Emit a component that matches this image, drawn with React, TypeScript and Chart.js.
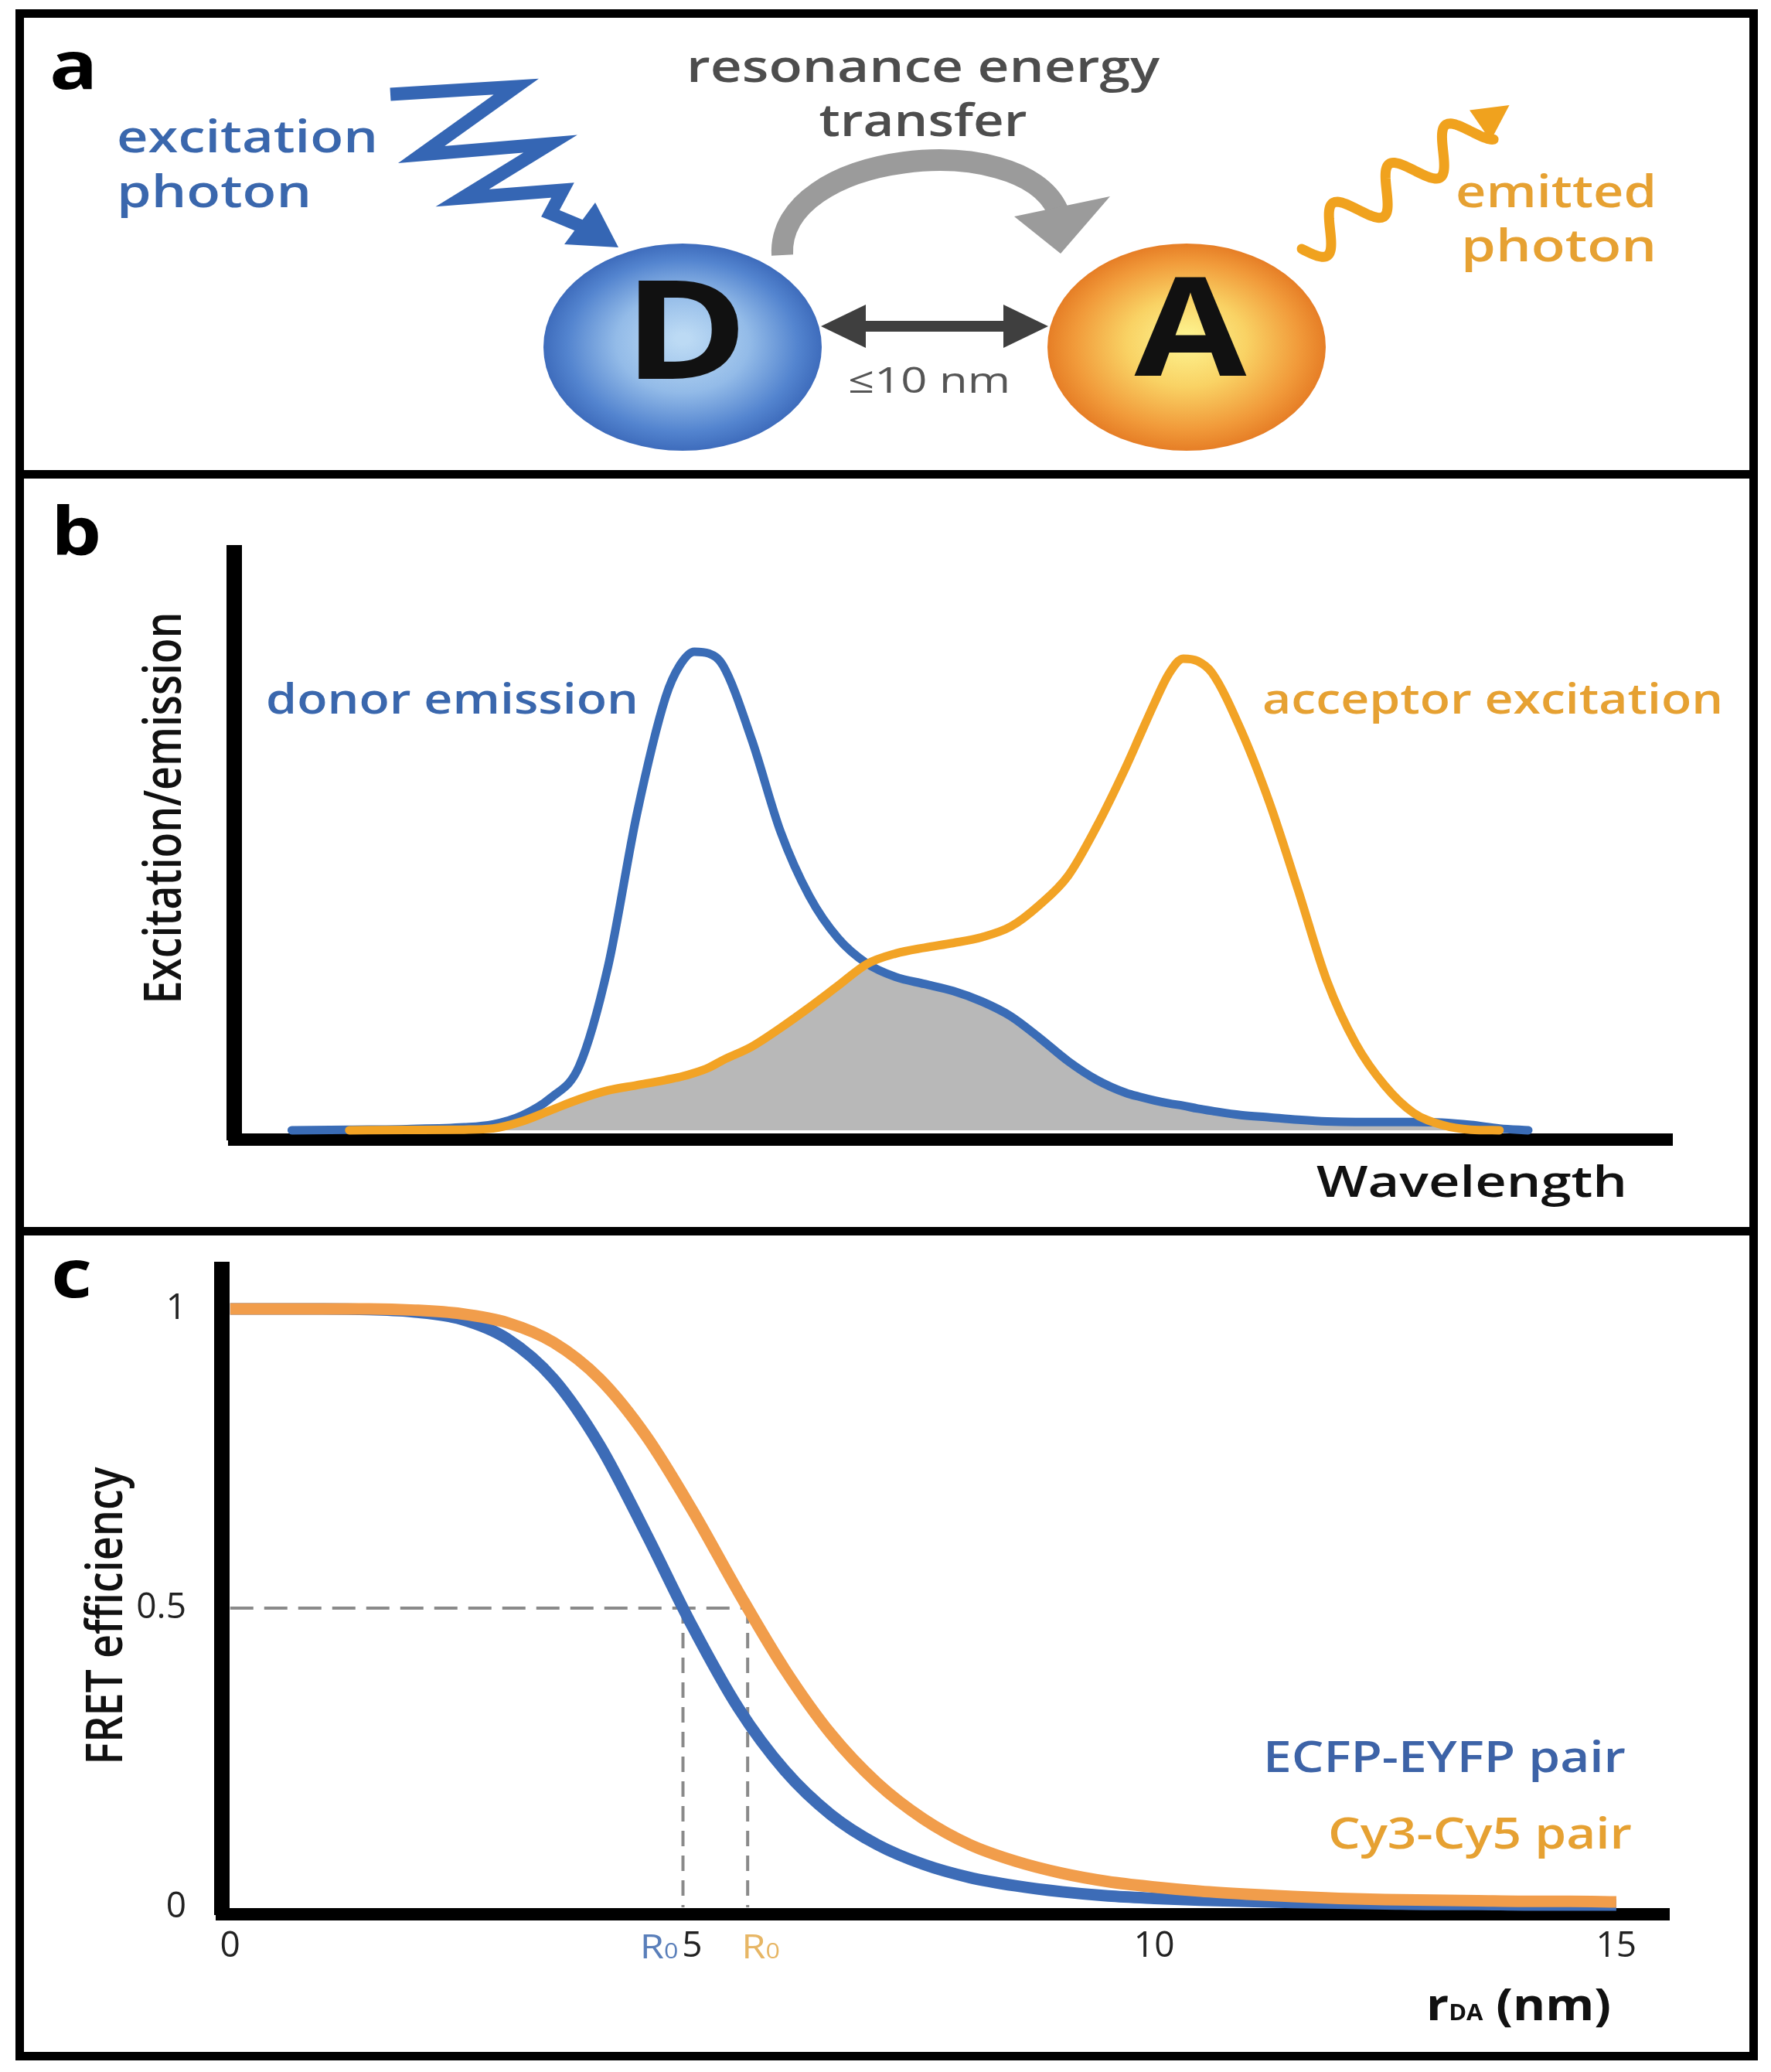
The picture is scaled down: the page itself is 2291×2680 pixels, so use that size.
import React, { useEffect, useRef } from "react";
import { Chart, registerables } from "chart.js";

Chart.register(...registerables);

// ---------------- Panel b data (arbitrary wavelength units) ----------------
const wavelength = [4, 8, 12, 16, 18, 20, 22, 24, 26, 28, 30, 31, 32, 33, 34, 36, 38, 40, 42, 44, 46, 48, 50, 52, 54, 56, 58, 60, 62, 63, 64, 65, 66, 67, 68, 70, 72, 74, 76, 78, 80, 82, 84, 86, 88, 90];
const donorEmission = [0, 0.1, 0.2, 0.5, 1.0, 2.5, 5.5, 11, 28, 54, 74, 79.5, 81.8, 81.5, 79.4, 66.7, 51, 40, 32.8, 28.5, 26.2, 25, 23.8, 22, 19.5, 15.8, 11.8, 8.6, 6.4, 5.7, 5.1, 4.6, 4.2, 3.7, 3.3, 2.6, 2.2, 1.8, 1.5, 1.4, 1.4, 1.4, 1.3, 0.9, 0.3, 0];
const acceptorExcitation = [null, 0, 0.05, 0.1, 0.3, 1.5, 3.4, 5.3, 6.8, 7.7, 8.6, 9.1, 9.8, 10.7, 12, 14.3, 17.5, 21, 24.7, 28.4, 30.2, 31.2, 32, 33, 34.8, 38.5, 43.5, 52, 62, 67.5, 73, 78, 80.6, 80.2, 78.2, 68.5, 56, 41, 25.5, 14.8, 7.7, 3, 0.9, 0.1, 0, null];

// ---------------- Panel c data ----------------
const distanceNm = [0, 0.5, 1, 1.5, 2, 2.5, 3, 3.5, 4, 4.5, 5, 5.5, 6, 6.5, 7, 7.5, 8, 8.5, 9, 9.5, 10, 10.5, 11, 11.5, 12, 12.5, 13, 13.5, 14, 14.5, 15];
const ecfpEyfpEfficiency = [1, 1, 1, 0.999, 0.995, 0.983, 0.95, 0.883, 0.772, 0.625, 0.47, 0.333, 0.229, 0.155, 0.105, 0.072, 0.05, 0.036, 0.026, 0.019, 0.015, 0.012, 0.01, 0.008, 0.007, 0.006, 0.005, 0.005, 0.004, 0.004, 0.004];
const cy3Cy5Efficiency = [1, 1, 1, 1, 0.998, 0.992, 0.977, 0.944, 0.883, 0.788, 0.664, 0.527, 0.398, 0.29, 0.208, 0.148, 0.105, 0.077, 0.057, 0.043, 0.034, 0.027, 0.022, 0.018, 0.015, 0.013, 0.012, 0.011, 0.01, 0.01, 0.009];
const r0Values = [4.9, 5.6]; // ECFP-EYFP, Cy3-Cy5
const halfEfficiency = 0.5;
const xTicksC = [0, 5, 10, 15];
const yTicksC = [0, 0.5, 1];

// ---------------- styles ----------------
const FONT = '"Open Sans", "Noto Sans", "DejaVu Sans", sans-serif';
const W = 2291;
const PANEL_A = { top: 22, height: 586 };
const PANEL_B = { top: 620, height: 967 };
const PANEL_C = { top: 1598, height: 1057 };
const BLUE_TEXT = "#3a67ad";
const ORANGE_TEXT = "#e6a132";
const GRAY_TEXT = "#4d4d4d";

type TOpts = { x: number; y: number; font: string; color: string; align?: "left" | "center" | "right"; width?: number; sx?: number };

function drawLabel(ctx: CanvasRenderingContext2D, text: string, o: TOpts) {
  ctx.save();
  ctx.font = o.font;
  ctx.fillStyle = o.color;
  ctx.textBaseline = "alphabetic";
  ctx.textAlign = "left";
  const w = ctx.measureText(text).width;
  const sx = o.width ? o.width / w : o.sx ?? 1;
  const tw = w * sx;
  const left = o.align === "center" ? o.x - tw / 2 : o.align === "right" ? o.x - tw : o.x;
  ctx.translate(left, o.y);
  ctx.scale(sx, 1);
  ctx.fillText(text, 0, 0);
  ctx.restore();
}

function drawVertical(ctx: CanvasRenderingContext2D, text: string, baseX: number, cy: number, font: string, length: number, cross: number) {
  ctx.save();
  ctx.font = font;
  ctx.fillStyle = "#111";
  ctx.textAlign = "center";
  ctx.textBaseline = "alphabetic";
  const w = ctx.measureText(text).width;
  ctx.translate(baseX, cy);
  ctx.rotate(-Math.PI / 2);
  ctx.scale(length / w, cross);
  ctx.fillText(text, 0, 0);
  ctx.restore();
}

function drawRich(ctx: CanvasRenderingContext2D, segs: { t: string; font: string }[], left: number, baseline: number, width: number, color: string) {
  ctx.save();
  ctx.fillStyle = color;
  ctx.textBaseline = "alphabetic";
  ctx.textAlign = "left";
  const widths = segs.map((s) => {
    ctx.font = s.font;
    return ctx.measureText(s.t).width;
  });
  const total = widths.reduce((a, b) => a + b, 0);
  const sx = width / total;
  ctx.translate(left, baseline);
  ctx.scale(sx, 1);
  let x = 0;
  segs.forEach((s, i) => {
    ctx.font = s.font;
    ctx.fillText(s.t, x, 0);
    x += widths[i];
  });
  ctx.restore();
}

function orb(ctx: CanvasRenderingContext2D, cx: number, cy: number, rx: number, ry: number, stops: [number, string][]) {
  ctx.save();
  ctx.translate(cx, cy);
  ctx.scale(rx / ry, 1);
  const g = ctx.createRadialGradient(0, -ry * 0.08, ry * 0.05, 0, 0, ry);
  stops.forEach(([o, c]) => g.addColorStop(o, c));
  ctx.fillStyle = g;
  ctx.beginPath();
  ctx.arc(0, 0, ry, 0, Math.PI * 2);
  ctx.fill();
  ctx.restore();
}

function tri(ctx: CanvasRenderingContext2D, pts: number[][], color: string) {
  ctx.fillStyle = color;
  ctx.beginPath();
  ctx.moveTo(pts[0][0], pts[0][1]);
  for (let i = 1; i < pts.length; i++) ctx.lineTo(pts[i][0], pts[i][1]);
  ctx.closePath();
  ctx.fill();
}

const diagramPlugin = {
  id: "fretDiagram",
  afterDraw(chart: any) {
    const ctx: CanvasRenderingContext2D = chart.ctx;
    ctx.save();
    ctx.translate(0, -PANEL_A.top);

    drawLabel(ctx, "a", { x: 64, y: 115, font: `700 86px ${FONT}`, color: "#000", sx: 1.2 });
    const sb = `600 58px ${FONT}`;
    drawLabel(ctx, "excitation", { x: 151, y: 197, font: sb, color: BLUE_TEXT, width: 338 });
    drawLabel(ctx, "photon", { x: 151, y: 268, font: sb, color: BLUE_TEXT, width: 252 });
    drawLabel(ctx, "resonance energy", { x: 1194, y: 106, font: sb, color: GRAY_TEXT, width: 612, align: "center" });
    drawLabel(ctx, "transfer", { x: 1194, y: 176, font: sb, color: GRAY_TEXT, width: 269, align: "center" });
    drawLabel(ctx, "emitted", { x: 1883, y: 268, font: sb, color: ORANGE_TEXT, width: 260 });
    drawLabel(ctx, "photon", { x: 1890, y: 338, font: sb, color: ORANGE_TEXT, width: 253 });

    // excitation zigzag
    ctx.save();
    ctx.strokeStyle = "#3566b4";
    ctx.lineWidth = 17;
    ctx.lineJoin = "miter";
    ctx.miterLimit = 10;
    ctx.beginPath();
    const zz = [[505, 122], [668, 112], [545, 200], [712, 186], [598, 256], [728, 246], [712, 276], [760, 296]];
    ctx.moveTo(zz[0][0], zz[0][1]);
    zz.slice(1).forEach((p) => ctx.lineTo(p[0], p[1]));
    ctx.stroke();
    tri(ctx, [[800, 320], [730, 316], [770, 262]], "#3566b4");
    ctx.restore();

    // resonance energy transfer arc
    ctx.save();
    ctx.strokeStyle = "#9b9b9b";
    ctx.lineWidth = 28;
    ctx.lineCap = "butt";
    ctx.beginPath();
    ctx.moveTo(1012, 330);
    ctx.bezierCurveTo(1005, 195, 1320, 165, 1368, 272);
    ctx.stroke();
    tri(ctx, [[1312, 280], [1436, 254], [1372, 328]], "#9b9b9b");
    ctx.restore();

    // circles
    orb(ctx, 883, 449, 180, 134, [[0, "#bcdaf4"], [0.45, "#93bbe8"], [0.82, "#5384cf"], [1, "#3e6cbc"]]);
    orb(ctx, 1535, 449, 180, 134, [[0, "#fdf28e"], [0.4, "#f9d264"], [0.8, "#f19a3a"], [1, "#e67e26"]]);
    drawLabel(ctx, "D", { x: 887, y: 490, font: `700 178px ${FONT}`, color: "#111", sx: 1.22, align: "center" });
    drawLabel(ctx, "A", { x: 1540, y: 486, font: `700 178px ${FONT}`, color: "#111", sx: 1.18, align: "center" });

    // distance double arrow
    ctx.save();
    ctx.strokeStyle = "#3f3f3f";
    ctx.lineWidth = 14;
    ctx.beginPath();
    ctx.moveTo(1105, 422);
    ctx.lineTo(1315, 422);
    ctx.stroke();
    tri(ctx, [[1062, 422], [1120, 394], [1120, 450]], "#3f3f3f");
    tri(ctx, [[1356, 422], [1298, 394], [1298, 450]], "#3f3f3f");
    ctx.restore();
    drawLabel(ctx, "≤10 nm", { x: 1097, y: 508, font: `400 46px ${FONT}`, color: "#555", width: 210 });

    // emitted photon squiggle
    ctx.save();
    ctx.strokeStyle = "#f0a21e";
    ctx.lineWidth = 13;
    ctx.lineCap = "round";
    const S = [1684, 322];
    const E = [1918, 160];
    const dx = E[0] - S[0];
    const dy = E[1] - S[1];
    const len = Math.hypot(dx, dy);
    const ux = dx / len;
    const uy = dy / len;
    const nx = -uy;
    const ny = ux;
    ctx.beginPath();
    for (let i = 0; i <= 200; i++) {
      const t = i / 200;
      const a = 26 * Math.sin(2 * Math.PI * 3.2 * t);
      const px = S[0] + dx * t + nx * a;
      const py = S[1] + dy * t + ny * a;
      if (i === 0) ctx.moveTo(px, py);
      else ctx.lineTo(px, py);
    }
    ctx.stroke();
    const tip = [E[0] + ux * 42, E[1] + uy * 42];
    tri(ctx, [tip, [E[0] + nx * 24 - ux * 4, E[1] + ny * 24 - uy * 4], [E[0] - nx * 24 - ux * 4, E[1] - ny * 24 - uy * 4]], "#f0a21e");
    ctx.restore();

    ctx.restore();
  },
};

const spectraText = {
  id: "spectraText",
  afterDraw(chart: any) {
    const ctx: CanvasRenderingContext2D = chart.ctx;
    ctx.save();
    ctx.translate(0, -PANEL_B.top);
    drawLabel(ctx, "b", { x: 66, y: 718, font: `700 86px ${FONT}`, color: "#000", sx: 1.2 });
    const sb = `600 54px ${FONT}`;
    drawLabel(ctx, "donor emission", { x: 344, y: 923, font: sb, color: BLUE_TEXT, width: 482 });
    drawLabel(ctx, "acceptor excitation", { x: 1633, y: 923, font: sb, color: ORANGE_TEXT, width: 596 });
    drawLabel(ctx, "Wavelength", { x: 1703, y: 1548, font: `600 56px ${FONT}`, color: "#111", width: 402 });
    drawVertical(ctx, "Excitation/emission", 234, 1045, `600 56px ${FONT}`, 507, 1.2);
    ctx.restore();
  },
};

const fretText = {
  id: "fretText",
  afterDraw(chart: any) {
    const ctx: CanvasRenderingContext2D = chart.ctx;
    const xs = chart.scales.x;
    ctx.save();
    ctx.translate(0, -PANEL_C.top);
    drawLabel(ctx, "c", { x: 66, y: 1678, font: `700 86px ${FONT}`, color: "#000", sx: 1.2 });
    drawVertical(ctx, "FRET efficiency", 158, 2090, `600 56px ${FONT}`, 385, 1.15);
    const sb = `600 56px ${FONT}`;
    drawLabel(ctx, "ECFP-EYFP pair", { x: 1634, y: 2292, font: sb, color: "#3d63a7", width: 469 });
    drawLabel(ctx, "Cy3-Cy5 pair", { x: 2111, y: 2391, font: sb, color: ORANGE_TEXT, width: 393, align: "right" });
    drawRich(
      ctx,
      [
        { t: "r", font: `700 58px ${FONT}` },
        { t: "DA", font: `700 28px ${FONT}` },
        { t: " (nm)", font: `700 58px ${FONT}` },
      ],
      1845,
      2613,
      239,
      "#111"
    );
    // R0 markers under the axis
    const y = 2533;
    const drawR0 = (anchor: number, align: "left" | "right", color: string) => {
      const segs = [
        { t: "R", font: `400 44px ${FONT}` },
        { t: "0", font: `400 28px ${FONT}` },
      ];
      ctx.save();
      ctx.font = segs[0].font;
      const w1 = ctx.measureText("R").width;
      ctx.font = segs[1].font;
      const w2 = ctx.measureText("0").width;
      ctx.restore();
      const total = (w1 + w2) * 1.15;
      const left = align === "right" ? anchor - total : anchor;
      drawRich(ctx, segs, left, y, total, color);
    };
    drawR0(xs.getPixelForValue(r0Values[0]) - 6, "right", "#5a7fba");
    drawR0(xs.getPixelForValue(r0Values[1]) - 8, "left", "#e7b665");
    ctx.restore();
  },
};

function makeDiagram(canvas: HTMLCanvasElement) {
  return new Chart(canvas, {
    type: "scatter",
    data: { datasets: [] },
    options: {
      animation: false,
      responsive: false,
      devicePixelRatio: 1,
      events: [],
      plugins: { legend: { display: false }, tooltip: { enabled: false } },
      scales: { x: { display: false }, y: { display: false } },
    },
    plugins: [diagramPlugin],
  } as any);
}

function makeSpectra(canvas: HTMLCanvasElement) {
  const overlap = wavelength.map((x, i) => ({
    x,
    y: Math.min(donorEmission[i] ?? 0, acceptorExcitation[i] ?? 0),
  }));
  return new Chart(canvas, {
    type: "line",
    data: {
      datasets: [
        {
          label: "acceptor excitation",
          data: wavelength.map((x, i) => ({ x, y: acceptorExcitation[i] })),
          borderColor: "#f2a325",
          borderWidth: 11,
          pointRadius: 0,
          cubicInterpolationMode: "monotone",
          fill: false,
          borderCapStyle: "round",
        },
        {
          label: "donor emission",
          data: wavelength.map((x, i) => ({ x, y: donorEmission[i] })),
          borderColor: "#3a6cb6",
          borderWidth: 11,
          pointRadius: 0,
          cubicInterpolationMode: "monotone",
          fill: false,
          borderCapStyle: "round",
        },
        {
          label: "spectral overlap",
          data: overlap,
          borderWidth: 0,
          borderColor: "rgba(0,0,0,0)",
          backgroundColor: "#b8b8b8",
          pointRadius: 0,
          cubicInterpolationMode: "monotone",
          fill: "origin",
        },
      ],
    },
    options: {
      animation: false,
      responsive: false,
      devicePixelRatio: 1,
      events: [],
      layout: { padding: { top: 95, right: 128, left: 0, bottom: 0 } },
      plugins: { legend: { display: false }, tooltip: { enabled: false } },
      scales: {
        x: {
          type: "linear",
          min: 0,
          max: 100,
          z: 1,
          grid: { display: false, drawTicks: false },
          ticks: { display: false },
          border: { display: true, color: "#000", width: 16 },
          afterFit: (s: any) => {
            s.height = 113;
          },
        },
        y: {
          type: "linear",
          min: -1.6,
          max: 98.7,
          z: 1,
          grid: { display: false, drawTicks: false },
          ticks: { display: false },
          border: { display: true, color: "#000", width: 20 },
          afterFit: (s: any) => {
            s.width = 303;
          },
        },
      },
    },
    plugins: [spectraText],
  } as any);
}

function makeFret(canvas: HTMLCanvasElement) {
  const dashStyle = { borderColor: "#8a8a8a", borderWidth: 4, pointRadius: 0, tension: 0, fill: false };
  return new Chart(canvas, {
    type: "line",
    data: {
      datasets: [
        {
          label: "Cy3-Cy5 pair",
          data: distanceNm.map((x, i) => ({ x, y: cy3Cy5Efficiency[i] })),
          borderColor: "#f19d4b",
          borderWidth: 15,
          pointRadius: 0,
          cubicInterpolationMode: "monotone",
          fill: false,
        },
        {
          label: "ECFP-EYFP pair",
          data: distanceNm.map((x, i) => ({ x, y: ecfpEyfpEfficiency[i] })),
          borderColor: "#3d6cb7",
          borderWidth: 15,
          pointRadius: 0,
          cubicInterpolationMode: "monotone",
          fill: false,
        },
        {
          label: "E = 0.5",
          data: [
            { x: 0, y: halfEfficiency },
            { x: r0Values[1], y: halfEfficiency },
          ],
          borderDash: [30, 14],
          ...dashStyle,
        },
        {
          label: "R0 ECFP-EYFP",
          data: [
            { x: r0Values[0], y: halfEfficiency },
            { x: r0Values[0], y: 0 },
          ],
          borderDash: [20, 12],
          ...dashStyle,
        },
        {
          label: "R0 Cy3-Cy5",
          data: [
            { x: r0Values[1], y: halfEfficiency },
            { x: r0Values[1], y: 0 },
          ],
          borderDash: [20, 12],
          ...dashStyle,
        },
      ],
    },
    options: {
      animation: false,
      responsive: false,
      devicePixelRatio: 1,
      events: [],
      layout: { padding: { top: 44, right: 132, left: 0, bottom: 0 } },
      plugins: { legend: { display: false }, tooltip: { enabled: false } },
      scales: {
        x: {
          type: "linear",
          min: -0.09,
          max: 15.57,
          z: 1,
          grid: { display: false, drawTicks: false },
          border: { display: true, color: "#000", width: 16 },
          afterBuildTicks: (s: any) => {
            s.ticks = xTicksC.map((v) => ({ value: v }));
          },
          ticks: {
            padding: 14,
            maxRotation: 0,
            autoSkip: false,
            color: "#222",
            font: { family: FONT, size: 46, weight: "400" },
            callback: (v: any) => String(v),
          },
          afterFit: (s: any) => {
            s.height = 179;
            s.paddingLeft = 0;
            s.paddingRight = 0;
          },
        },
        y: {
          type: "linear",
          min: -0.0116,
          max: 1.066,
          z: 1,
          grid: { display: false, drawTicks: false },
          border: { display: true, color: "#000", width: 20 },
          afterBuildTicks: (s: any) => {
            s.ticks = yTicksC.map((v) => ({ value: v }));
          },
          ticks: {
            padding: 46,
            autoSkip: false,
            color: "#222",
            font: { family: FONT, size: 46, weight: "400" },
            callback: (v: any) => String(v),
          },
          afterFit: (s: any) => {
            s.width = 287;
            s.paddingTop = 0;
            s.paddingBottom = 0;
          },
        },
      },
    },
    plugins: [fretText],
  } as any);
}

function ChartBox({ top, height, make }: { top: number; height: number; make: (c: HTMLCanvasElement) => Chart }) {
  const ref = useRef<HTMLCanvasElement>(null);
  useEffect(() => {
    if (!ref.current) return;
    const chart = make(ref.current);
    return () => chart.destroy();
  }, []);
  return (
    <canvas
      ref={ref}
      width={W}
      height={height}
      style={{ position: "absolute", left: 0, top, width: W, height, display: "block" }}
    />
  );
}

export default function App() {
  const line = (top: number, h: number) => (
    <div style={{ position: "absolute", left: 20, top, width: 2254, height: h, background: "#000" }} />
  );
  return (
    <div style={{ position: "absolute", left: 0, top: 0, width: W, height: 2680, background: "#fff", overflow: "hidden" }}>
      <ChartBox top={PANEL_A.top} height={PANEL_A.height} make={makeDiagram} />
      <ChartBox top={PANEL_B.top} height={PANEL_B.height} make={makeSpectra} />
      <ChartBox top={PANEL_C.top} height={PANEL_C.height} make={makeFret} />
      <div
        style={{
          position: "absolute",
          left: 20,
          top: 12,
          width: 2254,
          height: 2653,
          border: "11px solid #000",
          boxSizing: "border-box",
        }}
      />
      {line(608, 11)}
      {line(1587, 11)}
    </div>
  );
}
